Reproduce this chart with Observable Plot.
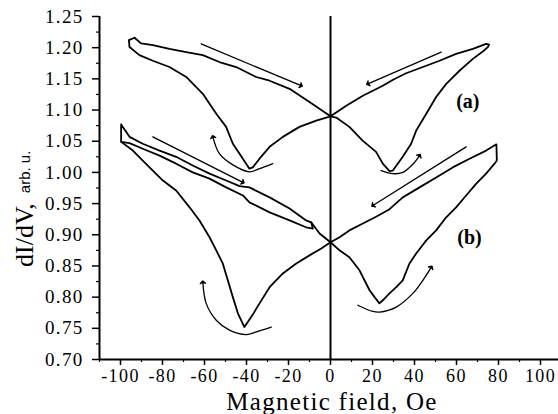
<!DOCTYPE html>
<html><head><meta charset="utf-8">
<script src="https://cdn.jsdelivr.net/npm/d3@7"></script>
<script src="https://cdn.jsdelivr.net/npm/@observablehq/plot@0.6"></script>
<style>body{margin:0;background:#fff}</style>
</head><body><div id="chart"></div>
<script>
const xTicks = [-100,-80,-60,-40,-20,0,20,40,60,80,100];
const xMinor = [-110,-90,-70,-50,-30,-10,10,30,50,70,90];
const yTicks = [0.70,0.75,0.80,0.85,0.90,0.95,1.00,1.05,1.10,1.15,1.20,1.25];
const yMinor = [0.725,0.775,0.825,0.875,0.925,0.975,1.025,1.075,1.125,1.175,1.225];
const xLabel = "Magnetic field, Oe";
const yLabelMain = "dI/dV,";
const yLabelUnit = "arb. u.";
const curveLabels = [{x:65.4,y:1.113,t:"(a)"},{x:66.2,y:0.896,t:"(b)"}];

// curve (a): closed butterfly loop
const curveA = [[-93.3,1.216],[-90.2,1.207],[-84.6,1.204],[-76.7,1.198],[-68.7,1.193],[-60.8,1.188],[-52.9,1.177],[-44.9,1.169],[-35.4,1.153],[-29,1.147],[-19.5,1.134],[-10,1.113],[0,1.090],[2.7,1.088],[9,1.073],[15.3,1.051],[21.7,1.033],[24.9,1.014],[28.1,1.002],[29.7,1.003],[34.4,1.025],[38.4,1.046],[40.8,1.067],[45.6,1.094],[50.3,1.121],[55.1,1.142],[61.4,1.163],[67.8,1.182],[73.3,1.196],[74.9,1.201],[75.5,1.205],[74.1,1.206],[67.8,1.198],[59.8,1.190],[51.9,1.179],[44,1.169],[36,1.159],[30,1.149],[24.9,1.139],[15.4,1.123],[7.5,1.107],[0,1.090],[-6.8,1.083],[-14.8,1.073],[-22.7,1.057],[-29,1.041],[-33.8,1.022],[-37,1.008],[-38.6,1.006],[-43.3,1.030],[-46.5,1.046],[-49.7,1.073],[-54.4,1.094],[-60.8,1.126],[-68.7,1.153],[-76.7,1.169],[-84.6,1.179],[-91,1.188],[-95.7,1.201],[-96,1.212],[-93.3,1.216]];
// curve (b): main loop
const curveB = [[-99.7,1.077],[-95.7,1.057],[-89.4,1.046],[-81.4,1.035],[-73.5,1.025],[-65.6,1.011],[-57.6,0.998],[-49.7,0.987],[-43.3,0.978],[-38.6,0.976],[-29,0.960],[-19.5,0.942],[-11.6,0.923],[-9.2,0.920],[-5.2,0.902],[0,0.888],[4.3,0.875],[9,0.864],[13.8,0.843],[18.6,0.811],[21,0.800],[23.3,0.790],[24.9,0.795],[28.1,0.806],[31.3,0.816],[34.4,0.827],[37.6,0.854],[40.8,0.870],[45.6,0.891],[50.3,0.907],[55.1,0.928],[59.8,0.944],[64.6,0.963],[69.4,0.982],[74.1,0.998],[78.1,1.014],[79.2,1.019],[79,1.045],[74.1,1.035],[66.2,1.022],[58.2,1.008],[50.3,0.992],[42.4,0.976],[34.4,0.960],[28.1,0.941],[21.7,0.929],[15.4,0.918],[9,0.907],[4.3,0.896],[0,0.888],[-4.4,0.878],[-10,0.867],[-16.3,0.854],[-22.7,0.838],[-29,0.816],[-33.8,0.790],[-37,0.772],[-41,0.752],[-44.1,0.774],[-46.5,0.800],[-48.9,0.827],[-51.3,0.854],[-54.4,0.875],[-57.6,0.896],[-62.4,0.923],[-67.1,0.944],[-73.5,0.971],[-79.8,0.987],[-84.6,1.003],[-89.4,1.019],[-94.1,1.035],[-99.7,1.049],[-99.7,1.077]];
// curve (b): second (noisy) trace of the upper-left branch
const curveB2 = [[-99.7,1.049],[-95.7,1.047],[-89.4,1.038],[-81.4,1.027],[-73.5,1.014],[-65.6,1.000],[-57.6,0.990],[-49.7,0.976],[-41.7,0.963],[-38.6,0.952],[-29,0.936],[-19.5,0.923],[-11.6,0.912],[-8.4,0.910],[-9.2,0.920]];

// sweep-direction arrows
const arrowA1 = [[-61.6,1.206],[-14,1.139]];
const arrowA2 = [[52.7,1.193],[17.8,1.142]];
const arcA1 = [[-27.5,1.014],[-33.8,1.006],[-38.6,1.001],[-46.5,1.012],[-52.9,1.030],[-56,1.057]];
const arcA2 = [[24.1,1.003],[29.7,0.998],[34.4,1.000],[39.2,1.013],[42.4,1.027]];
const arrowB1 = [[-84.6,1.057],[-41.7,0.984]];
const arrowB2 = [[64.6,1.041],[20.2,0.947]];
const arcB1 = [[-28.2,0.752],[-33.8,0.746],[-40.1,0.740],[-48.1,0.747],[-54.4,0.763],[-59.2,0.790],[-60.8,0.824]];
const arcB2 = [[13,0.787],[20.2,0.777],[23.3,0.776],[31.3,0.784],[39.2,0.806],[44,0.827],[48,0.848]];

const serif = "'Liberation Serif','Times New Roman',serif";
const tbl = (arr, s) => arr.map(([x,y]) => ({x, y, s}));
const curves = [...tbl(curveA,"a"), ...tbl(curveB,"b"), ...tbl(curveB2,"b2")];
const straightArrows = [arrowA1, arrowA2, arrowB1, arrowB2];
const arcs = [arcA1, arcA2, arcB1, arcB2];

const chart = Plot.plot({
  width: 558, height: 414,
  marginLeft: 99, marginRight: 0, marginTop: 16, marginBottom: 55,
  x: {domain: [-110, 108.57]},
  y: {domain: [0.70, 1.25]},
  style: {fontFamily: serif, color: "black", background: "white", overflow: "visible"},
  marks: [
    Plot.axisX({ticks: xTicks, tickSize: 6, tickPadding: 4, fontSize: 18, tickFormat: d => String(d), label: null, strokeWidth: 1.5}),
    Plot.axisX({ticks: xMinor, tickSize: 3, tickFormat: () => "", label: null, strokeWidth: 1.2}),
    Plot.axisY({ticks: yTicks, tickSize: 7, tickPadding: 9, fontSize: 19, tickFormat: d => d.toFixed(2), label: null, strokeWidth: 1.5}),
    Plot.axisY({ticks: yMinor, tickSize: 3, tickFormat: () => "", label: null, strokeWidth: 1.2}),
    Plot.ruleY([0.70], {strokeWidth: 2}),
    Plot.ruleX([-110], {y1: 0.70, y2: 1.25, strokeWidth: 2}),
    Plot.ruleX([0], {y1: 0.70, y2: 1.25, strokeWidth: 2}),
    Plot.line(curves, {x: "x", y: "y", z: "s", stroke: "black", strokeWidth: 1.8, strokeLinejoin: "round"}),
    ...straightArrows.map(a => Plot.line(tbl(a,"ar"), {x: "x", y: "y", stroke: "black", strokeWidth: 1.3, markerEnd: "arrow"})),
    ...arcs.map(a => Plot.line(tbl(a,"arc"), {x: "x", y: "y", stroke: "black", strokeWidth: 1.3, curve: "catmull-rom", markerEnd: "arrow"})),
    Plot.text(curveLabels, {x: "x", y: "y", text: "t", fontSize: 20, fontWeight: "bold", fontFamily: serif})
  ]
});
const svg = d3.select(chart);
svg.selectAll("marker path").attr("fill", "black");
svg.selectAll("g[aria-label='x-axis tick label'] text").attr("letter-spacing", "1.4px");
svg.selectAll("g[aria-label='y-axis tick label'] text").attr("letter-spacing", "1.3px");
svg.append("text")
  .attr("x", 332).attr("y", 410)
  .attr("text-anchor", "middle")
  .attr("font-family", serif).attr("font-size", 25)
  .attr("letter-spacing", "1.3px")
  .attr("fill", "black")
  .text(xLabel);
const yl = svg.append("text")
  .attr("transform", "translate(33,267) rotate(-90)")
  .attr("text-anchor", "start")
  .attr("fill", "black");
yl.append("tspan").attr("font-family", serif).attr("font-size", 26).text(yLabelMain);
yl.append("tspan").attr("font-family", "'Liberation Sans',Arial,sans-serif").attr("font-size", 15).attr("dx", 10).attr("dy", -3).text(yLabelUnit);
document.getElementById("chart").appendChild(chart);
</script>
</body></html>
